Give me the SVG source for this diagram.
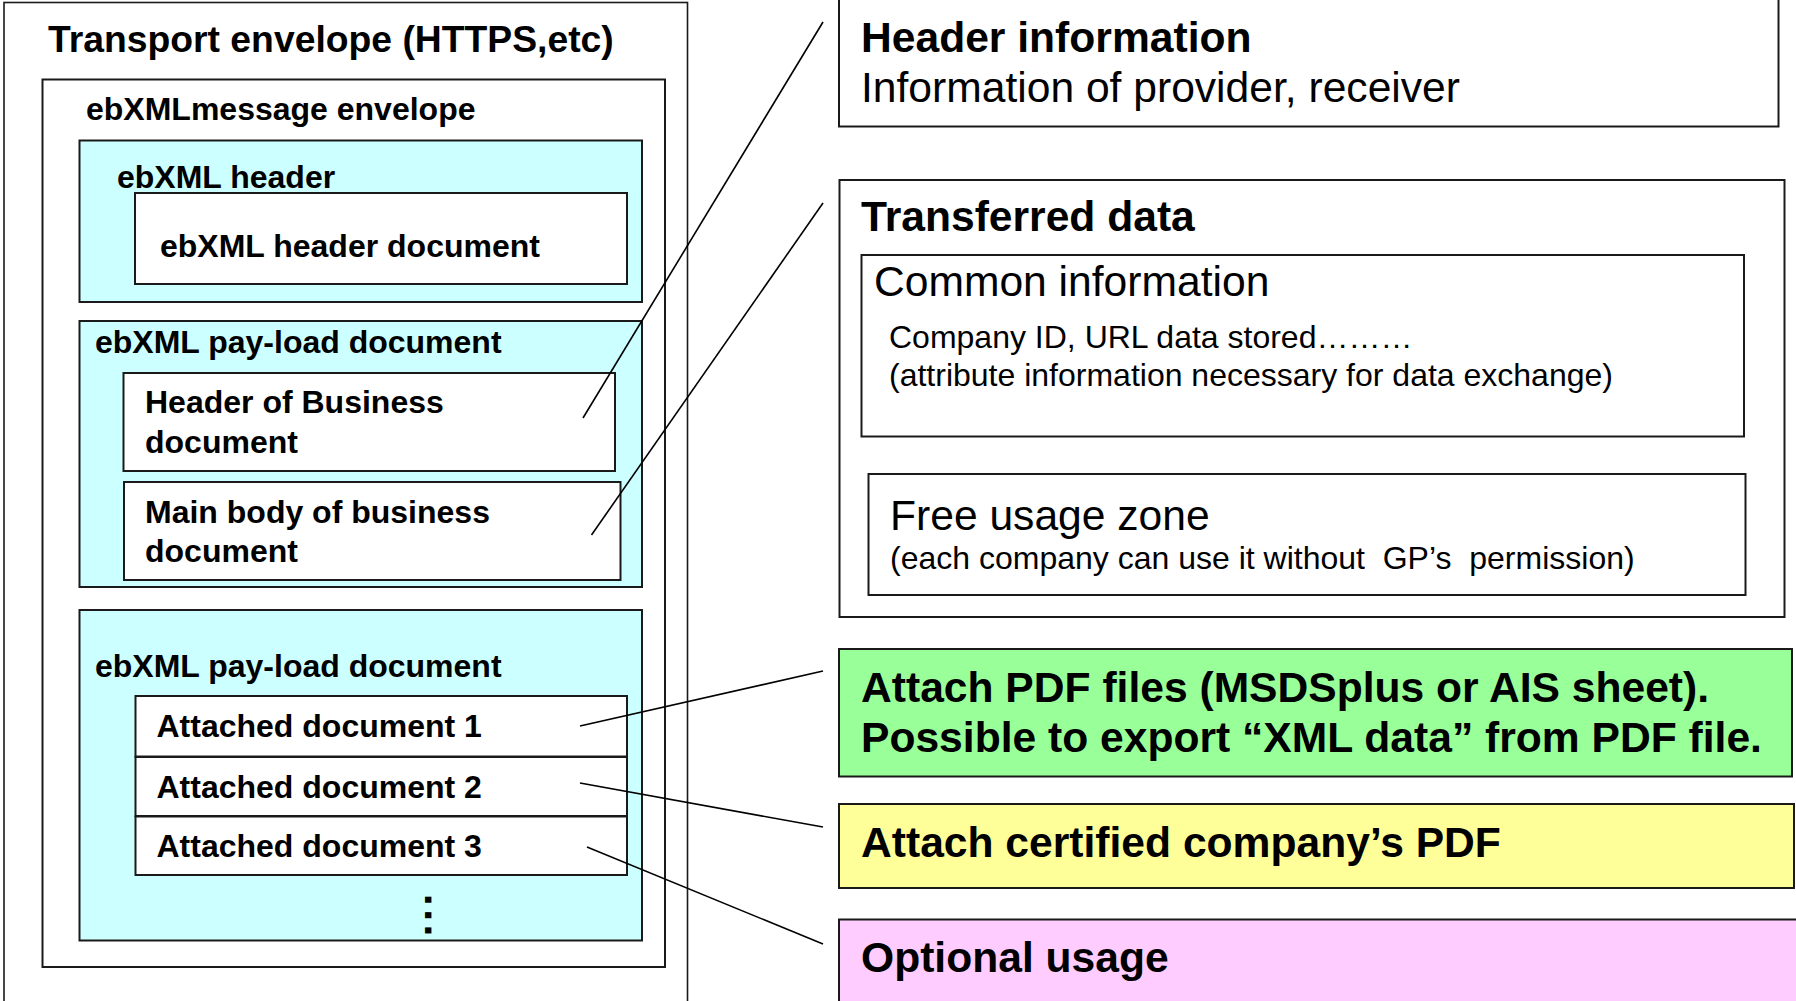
<svg xmlns="http://www.w3.org/2000/svg" width="1796" height="1001" viewBox="0 0 1796 1001">
  <style>
    .box { fill: #ffffff; stroke: #1a1a1a; stroke-width: 2; }
    .thin { fill: #ffffff; stroke: #1a1a1a; stroke-width: 1.6; }
    .cyan { fill: #ccffff; stroke: #1a1a1a; stroke-width: 2; }
    .green { fill: #99ff99; stroke: #1a1a1a; stroke-width: 2; }
    .yellow { fill: #ffff99; stroke: #1a1a1a; stroke-width: 2; }
    .pink { fill: #ffccff; stroke: #1a1a1a; stroke-width: 2; }
    text { font-family: "Liberation Sans", Arial, sans-serif; fill: #000000; }
    .b32 { font-size: 32px; font-weight: bold; }
    .b42 { font-size: 42.6px; font-weight: bold; }
    .r42 { font-size: 42.6px; }
    .r32 { font-size: 32px; }
    .conn line { stroke: #000000; stroke-width: 1.6; fill: none; }
  </style>

  <rect width="1796" height="1001" fill="#ffffff"/>

  <!-- left side: nested envelope structure -->
  <g id="transport-envelope">
    <rect class="thin" x="4" y="2.5" width="683.5" height="1010"/>
    <text x="48" y="52" font-size="37.3" font-weight="bold">Transport envelope (HTTPS,etc)</text>
  </g>

  <g id="message-envelope">
    <rect class="box" x="42.5" y="79.5" width="622.5" height="887.5"/>
    <text class="b32" x="86" y="120">ebXMLmessage envelope</text>
  </g>

  <g id="ebxml-header">
    <rect class="cyan" x="79.5" y="140.5" width="562.5" height="161.5"/>
    <text class="b32" x="117" y="188">ebXML header</text>
  </g>

  <g id="ebxml-header-document">
    <rect class="box" x="135" y="193" width="492" height="91"/>
    <text class="b32" x="160" y="257">ebXML header document</text>
  </g>

  <g id="payload-1">
    <rect class="cyan" x="79.5" y="321" width="562.5" height="266"/>
    <text class="b32" x="95" y="353">ebXML pay-load document</text>
  </g>

  <g id="business-header">
    <rect class="box" x="123.5" y="373" width="491.5" height="98"/>
    <text class="b32" x="145" y="413">Header of Business</text>
    <text class="b32" x="145" y="453">document</text>
  </g>

  <g id="business-body">
    <rect class="box" x="124" y="482" width="496.5" height="98"/>
    <text class="b32" x="145" y="523">Main body of business</text>
    <text class="b32" x="145" y="562">document</text>
  </g>

  <g id="payload-2">
    <rect class="cyan" x="79.5" y="610" width="562.5" height="330.5"/>
    <text class="b32" x="95" y="677">ebXML pay-load document</text>
    <!-- vertical continuation dots: a run of periods turned on its side -->
    <text font-size="43" font-weight="bold" letter-spacing="3.5" transform="translate(425 893.7) rotate(90)">...</text>
  </g>

  <g id="attached-1">
    <rect class="box" x="135.5" y="696" width="491.5" height="60.5"/>
    <text class="b32" x="156.5" y="737">Attached document 1</text>
  </g>
  <g id="attached-2">
    <rect class="box" x="135.5" y="757" width="491.5" height="59"/>
    <text class="b32" x="156.5" y="797.5">Attached document 2</text>
  </g>
  <g id="attached-3">
    <rect class="box" x="135.5" y="816.5" width="491.5" height="58.5"/>
    <text class="b32" x="156.5" y="857">Attached document 3</text>
  </g>

  <!-- right side: explanations -->
  <g id="header-information">
    <rect class="box" x="839" y="-3" width="939.5" height="129.5"/>
    <text class="b42" x="861" y="51.5">Header information</text>
    <text class="r42" x="861" y="101.5">Information of provider, receiver</text>
  </g>

  <g id="transferred-data">
    <rect class="box" x="839.5" y="180" width="945" height="437"/>
    <text class="b42" x="861" y="231">Transferred data</text>
  </g>

  <g id="common-information">
    <rect class="box" x="861.5" y="255" width="882.5" height="181.5"/>
    <text class="r42" x="874" y="296">Common information</text>
    <text class="r32" x="889" y="348">Company ID, URL data stored………</text>
    <text class="r32" x="889" y="386">(attribute information necessary for data exchange)</text>
  </g>

  <g id="free-usage-zone">
    <rect class="box" x="868.5" y="474" width="877" height="121"/>
    <text class="r42" x="890" y="530">Free usage zone</text>
    <text class="r32" x="890" y="569" xml:space="preserve">(each company can use it without  GP’s  permission)</text>
  </g>

  <g id="attach-pdf">
    <rect class="green" x="839" y="649" width="953" height="127.5"/>
    <text class="b42" x="861" y="701.5">Attach PDF files (MSDSplus or AIS sheet).</text>
    <text class="b42" x="861" y="751.5">Possible to export “XML data” from PDF file.</text>
  </g>

  <g id="attach-certified">
    <rect class="yellow" x="839" y="804" width="955" height="84"/>
    <text class="b42" x="861" y="856.5">Attach certified company’s PDF</text>
  </g>

  <g id="optional-usage">
    <rect class="pink" x="839" y="919.5" width="965" height="100"/>
    <text class="b42" x="861" y="971.5">Optional usage</text>
  </g>

  <!-- connectors -->
  <g id="connectors" class="conn">
    <line x1="583" y1="418" x2="823" y2="22"/>
    <line x1="591.5" y1="535" x2="823" y2="203"/>
    <line x1="580" y1="726" x2="823" y2="671"/>
    <line x1="580" y1="783" x2="823" y2="827"/>
    <line x1="587" y1="847" x2="823" y2="944"/>
  </g>
</svg>
